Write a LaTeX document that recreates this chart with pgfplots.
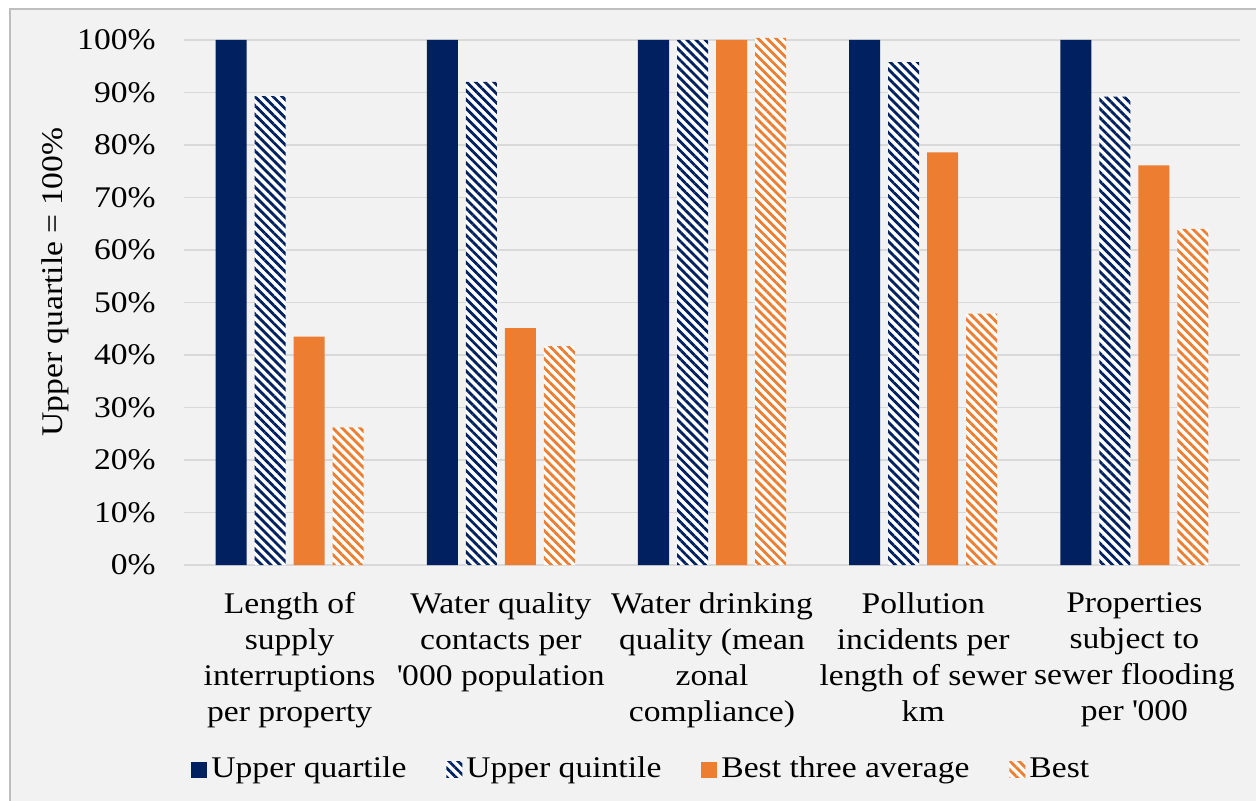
\documentclass[border=0pt]{standalone}
\usepackage{fontspec}
\setmainfont{Liberation Serif}[FakeStretch=1.12]
\usepackage{pgfplots}
\pgfplotsset{compat=1.18}
\usetikzlibrary{patterns.meta}
\definecolor{navy}{HTML}{002060}
\definecolor{orng}{HTML}{ED7D31}
\definecolor{bg}{HTML}{F2F2F2}
\definecolor{gridc}{HTML}{D9D9D9}
\pgfplotsset{sq legend/.style={legend image code/.code={\path[##1] (0bp,-4bp) rectangle (8bp,4bp);}}}
\begin{document}
\fontsize{15bp}{18bp}\selectfont
\begin{tikzpicture}
\fill[white] (-92bp,-118bp) rectangle (536bp,282.5bp);
\fill[bg] (-87bp,-118bp) rectangle (536bp,278bp);
\draw[gridc!70!gray, line width=0.75bp] (-87bp,-118bp) -- (-87bp,278bp) -- (536bp,278bp);
\begin{axis}[
  scale only axis, width=528bp, height=262.5bp,
  at={(0,0)}, anchor=south west,
  ymin=0, ymax=100, xmin=-0.5, xmax=4.5, clip=false,
  ybar=4bp, bar width=15.5bp,
  xtick={0,1,2,3,4},
  xticklabels={{Length of\\supply\\interruptions\\per property},
               {Water quality\\contacts per\\\textquotesingle 000 population},
               {Water drinking\\quality (mean\\zonal\\compliance)},
               {Pollution\\incidents per\\length of sewer\\km},
               {Properties\\subject to\\sewer flooding\\per \textquotesingle 000}},
  ytick={0,10,...,100},
  yticklabel={\pgfmathprintnumber{\tick}\%},
  /pgf/number format/assume math mode=true,
  ymajorgrids, grid style={gridc, line width=0.75bp},
  axis line style={draw=none},
  major tick length=0pt,
  tick label style={font=\fontsize{15bp}{18bp}\selectfont, text=black},
  xticklabel style={align=center, anchor=north, yshift=-8.5bp},
  yticklabel style={xshift=-9bp},
  ylabel={Upper quartile = 100\%},
  ylabel style={at={(axis description cs:-0.122,0.539)}, anchor=center, font=\fontsize{15bp}{18bp}\selectfont},
  legend style={at={(axis description cs:0.434,-0.39)}, anchor=center, draw=none, fill=none,
    legend columns=4, font=\fontsize{15bp}{18bp}\selectfont,
    /tikz/every even column/.append style={column sep=18bp}},
  legend cell align=left,
]
\addplot[fill=navy, draw=none, sq legend] coordinates {(0,100) (1,100) (2,100) (3,100) (4,100)};
\addlegendentry{Upper quartile}
\addplot[fill=white, draw=none, postaction={pattern={Lines[angle=-45,distance=3.2bp,line width=1.4bp]}, pattern color=navy}, sq legend]
  coordinates {(0,89.3) (1,92) (2,100) (3,95.8) (4,89.2)};
\addlegendentry{Upper quintile}
\addplot[fill=orng, draw=none, sq legend] coordinates {(0,43.5) (1,45.1) (2,100) (3,78.6) (4,76.1)};
\addlegendentry{Best three average}
\addplot[fill=white, draw=none, postaction={pattern={Lines[angle=-45,distance=3.2bp,line width=1.4bp]}, pattern color=orng}, sq legend]
  coordinates {(0,26.2) (1,41.7) (2,100.4) (3,47.9) (4,64)};
\addlegendentry{Best}
\end{axis}
\pgfresetboundingbox
\useasboundingbox (-92bp,-118bp) rectangle (536bp,282.5bp);
\end{tikzpicture}
\end{document}
